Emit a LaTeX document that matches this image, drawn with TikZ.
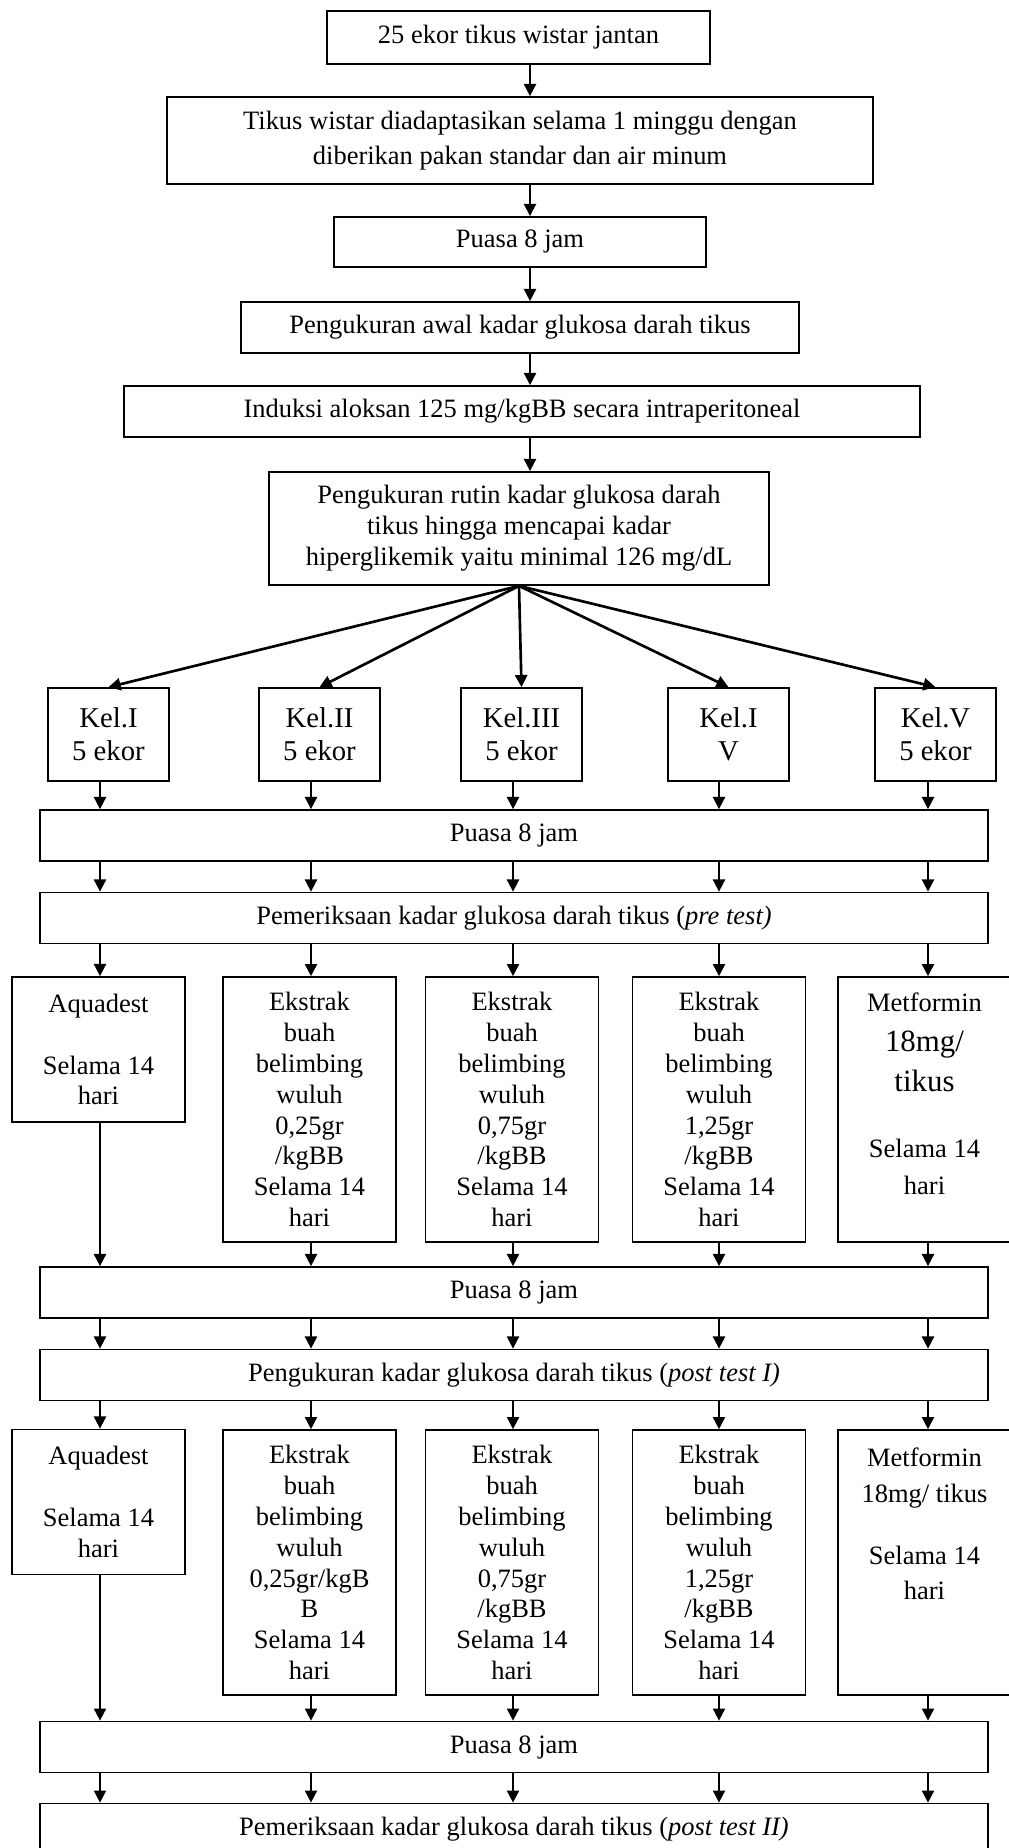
\documentclass[tikz,border=0pt]{standalone}
\usepackage{fontspec}
\setmainfont{Liberation Serif}
\usetikzlibrary{arrows.meta,positioning}
\tikzset{
  box/.style={draw,line width=0.8pt,inner sep=1pt,align=center,
    font=\fontsize{12pt}{14pt}\selectfont},
  kelbox/.style={box,minimum width=54.8pt,minimum height=42.1pt,
    font=\fontsize{13pt}{15pt}\selectfont},
  widebox/.style={box,minimum width=429.4pt,minimum height=23.1pt},
  shortbox/.style={box,minimum width=78.4pt,minimum height=65.7pt},
  tallbox/.style={box,minimum width=78.4pt,minimum height=120pt},
  arr/.style={-{Triangle[length=5.5pt,width=5.5pt]},line width=0.8pt},
  fan/.style={arr,line width=1.2pt}
}
\begin{document}
\begin{tikzpicture}[x=0.453pt,y=-0.453pt]
  \useasboundingbox (0,0) rectangle (1009,1848);
  % column and spine positions
  \foreach \i/\x in {1/100,2/311,3/513,4/719,5/928}
    \coordinate (col\i) at (\x,0);
  \coordinate (spine) at (530,0);
  % top chain
  \node[box,minimum width=173.5pt,minimum height=24pt] (start) at (518.5,37.5)
    {25 ekor tikus wistar jantan};
  \node[box,minimum width=319.8pt,minimum height=39.4pt] (adapt) at (520,140.5)
    {Tikus wistar diadaptasikan selama 1 minggu dengan\\[2pt]diberikan pakan standar dan air minum};
  \node[box,minimum width=168.5pt,minimum height=22.7pt] (fast) at (520,242)
    {Puasa 8 jam};
  \node[box,minimum width=252.8pt,minimum height=23.1pt] (initial) at (520,327.5)
    {Pengukuran awal kadar glukosa darah tikus};
  \node[box,minimum width=360.6pt,minimum height=23.1pt] (induce) at (522,411.5)
    {Induksi aloksan 125 mg/kgBB secara intraperitoneal};
  \node[box,minimum width=226.5pt,minimum height=51.2pt] (routine) at (519,528.5)
    {Pengukuran rutin kadar glukosa darah\\tikus hingga mencapai kadar\\hiperglikemik yaitu minimal 126 mg/dL};
  \draw[arr] (start.south -| spine) -- (adapt.north -| spine);
  \draw[arr] (adapt.south -| spine) -- (fast.north -| spine);
  \draw[arr] (fast.south -| spine) -- (initial.north -| spine);
  \draw[arr] (initial.south -| spine) -- (induce.north -| spine);
  \draw[arr] (induce.south -| spine) -- (routine.north -| spine);
  % groups
  \node[kelbox] (kel1) at (108.5,734.5) {Kel.I\\5 ekor};
  \node[kelbox] (kel2) at (319.5,734.5) {Kel.II\\5 ekor};
  \node[kelbox] (kel3) at (521.5,734.5) {Kel.III\\5 ekor};
  \node[kelbox] (kel4) at (728.5,734.5) {Kel.I\\V};
  \node[kelbox] (kel5) at (935.5,734.5) {Kel.V\\5 ekor};
  \foreach \k in {1,...,5}
    \draw[fan] (routine.south) -- (kel\k.north);
  % pre test
  \node[widebox] (fastA) at (514,835.5) {Puasa 8 jam};
  \node[widebox] (pre) at (514,918)
    {Pemeriksaan kadar glukosa darah tikus (\textit{pre test)}};
  % first treatment
  \node[shortbox] (ta1) at (98.5,1049.5) {Aquadest\\[14pt]Selama 14\\hari};
  \node[tallbox] (ta2) at (309.5,1109.5)
    {Ekstrak\\buah\\belimbing\\wuluh\\0,25gr\\/kgBB\\Selama 14\\hari};
  \node[tallbox] (ta3) at (512,1109.5)
    {Ekstrak\\buah\\belimbing\\wuluh\\0,75gr\\/kgBB\\Selama 14\\hari};
  \node[tallbox] (ta4) at (719,1109.5)
    {Ekstrak\\buah\\belimbing\\wuluh\\1,25gr\\/kgBB\\Selama 14\\hari};
  \node[tallbox] (ta5) at (924.5,1109.5)
    {Metformin\\[4pt]{\fontsize{14pt}{14pt}\selectfont 18mg/}\\[4pt]%
     {\fontsize{14pt}{14pt}\selectfont tikus}\\[16pt]Selama 14\\[3pt]hari\\\mbox{}};
  % post test I
  \node[widebox] (fastB) at (514,1292.5) {Puasa 8 jam};
  \node[widebox] (postA) at (514,1375)
    {Pengukuran kadar glukosa darah tikus (\textit{post test I)}};
  % second treatment
  \node[shortbox] (tb1) at (98.5,1502) {Aquadest\\[14pt]Selama 14\\hari};
  \node[tallbox] (tb2) at (309.5,1562.5)
    {Ekstrak\\buah\\belimbing\\wuluh\\0,25gr/kgB\\B\\Selama 14\\hari};
  \node[tallbox] (tb3) at (512,1562.5)
    {Ekstrak\\buah\\belimbing\\wuluh\\0,75gr\\/kgBB\\Selama 14\\hari};
  \node[tallbox] (tb4) at (719,1562.5)
    {Ekstrak\\buah\\belimbing\\wuluh\\1,25gr\\/kgBB\\Selama 14\\hari};
  \node[tallbox] (tb5) at (924.5,1562.5)
    {Metformin\\[2pt]18mg/ tikus\\[14pt]Selama 14\\[2pt]hari\\[21pt]\mbox{}};
  % post test II
  \node[widebox] (fastC) at (514,1747) {Puasa 8 jam};
  \node[widebox] (postB) at (514,1829)
    {Pemeriksaan kadar glukosa darah tikus (\textit{post test II)}};
  % vertical arrows per column
  \foreach \i in {1,...,5} {
    \draw[arr] (kel\i.south -| col\i) -- (fastA.north -| col\i);
    \draw[arr] (fastA.south -| col\i) -- (pre.north -| col\i);
    \draw[arr] (pre.south -| col\i) -- (ta\i.north -| col\i);
    \draw[arr] (ta\i.south -| col\i) -- (fastB.north -| col\i);
    \draw[arr] (fastB.south -| col\i) -- (postA.north -| col\i);
    \draw[arr] (postA.south -| col\i) -- (tb\i.north -| col\i);
    \draw[arr] (tb\i.south -| col\i) -- (fastC.north -| col\i);
    \draw[arr] (fastC.south -| col\i) -- (postB.north -| col\i);
  }
\end{tikzpicture}
\end{document}
